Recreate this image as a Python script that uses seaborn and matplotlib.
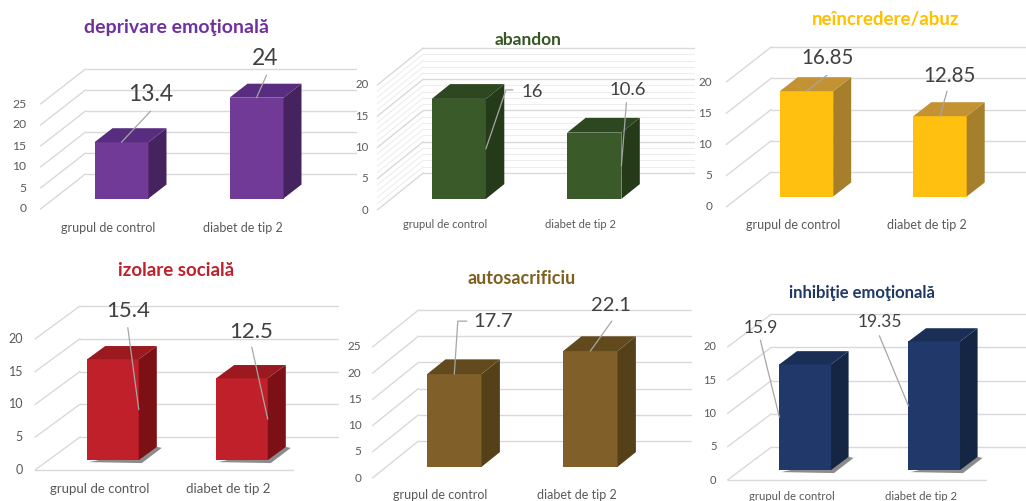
import matplotlib
matplotlib.use("Agg")
import matplotlib.pyplot as plt
import seaborn as sns
import pandas as pd
from matplotlib.patches import Polygon

# ---------------- data ----------------
categories = ["grupul de control", "diabet de tip 2"]
titles = ["deprivare emoţională", "abandon", "neîncredere/abuz",
          "izolare socială", "autosacrificiu", "inhibiţie emoţională"]
deprivare = [13.4, 24]
abandon = [16, 10.6]
neincredere = [16.85, 12.85]
izolare = [15.4, 12.5]
autosacrificiu = [17.7, 22.1]
inhibitie = [15.9, 19.35]
series = [deprivare, abandon, neincredere, izolare, autosacrificiu, inhibitie]
tick_max = [25, 20, 20, 20, 25, 20]
tick_step = 5

# ---------------- style / layout ----------------
W, H = 1026, 501
sns.set_theme(style="white")
plt.rcParams['font.family'] = ['Lato', 'DejaVu Sans']

boxes = [(0, 0, 342, 250), (342, 0, 684, 250), (684, 0, 1026, 250),
         (0, 250, 342, 501), (342, 250, 684, 501), (684, 250, 1026, 501)]
# cx: front-plane centre of first category (px), sx px per category,
# y0: front-wall zero (px), sy px per unit, DX/DY full depth offset (px)
geo = [dict(cx=108, sx=135, y0=209, sy=4.2, DX=45, DY=35),
       dict(cx=445, sx=135.5, y0=210, sy=6.25, DX=46, DY=37),
       dict(cx=793, sx=133.5, y0=207, sy=6.25, DX=45, DY=35),
       dict(cx=99.5, sx=129, y0=470, sy=6.55, DX=45, DY=33),
       dict(cx=440.5, sx=136, y0=478, sy=5.24, DX=46, DY=37),
       dict(cx=792, sx=129, y0=480, sy=6.65, DX=44, DY=33)]
front_c = ["#703A96", "#3A5A2A", "#FFC010", "#C0202A", "#806028", "#21386A"]
top_c = ["#582C7E", "#2D4720", "#C29233", "#9A1A1F", "#634A1D", "#1A2E56"]
side_c = ["#45235F", "#243A18", "#A57F2C", "#7C1014", "#544119", "#152644"]
title_c = ["#7030A0", "#375623", "#FFC000", "#C0202A", "#7F5F1F", "#1F3864"]
title_xy = [(177, 28), (528, 40), (886, 20), (176, 270), (522, 278), (862, 293)]
title_fs = [14, 12.5, 13.5, 13.5, 13, 12]
tick_fs = [8.7, 8.2, 8.5, 9, 8.5, 8]
tick_gap = [14, 9, 14, 12, 11, 11]
cat_fs = [9, 8, 9, 9.5, 9, 8.2]
cat_dy = [19, 15, 18, 19, 17, 16]
lab_fs = [16.5, 13.3, 14.8, 16, 14.5, 12.5]
minor = [False, True, False, False, False, False]
floor_line = [False, False, False, True, False, True]
shadow = [False, False, False, True, False, True]
# data-label placement: anchor on bar, leader path and label centre, px offsets
labspec = [
    [("top", [(0, 0), (29, -31)], (29, -47.5)), ("top", [(0, 0), (10, -22.5)], (9, -39.5))],
    [("right", [(0, 0), (20, -59), (27, -59)], (46.5, -57)), ("right", [(0, 0), (5, -63)], (6, -76))],
    [("top", [(0, 0), (20.5, -16)], (21.5, -33.5)), ("top", [(0, 0), (7, -25)], (10, -40.3))],
    [("right", [(0, 0), (-11, -82)], (-10.5, -98.3)), ("right", [(0, 0), (-16, -72)], (-17, -87.3))],
    [("top", [(0, 0), (3.5, -53), (12.5, -53)], (38.5, -52.2)), ("top", [(0, 0), (21.5, -30)], (21, -46))],
    [("left", [(0, 0), (-19, -77)], (-19, -89.3)), ("left", [(0, 0), (-29, -70)], (-29, -84))],
]
F0, FB, BW = 0.3, 0.4, 0.4   # bar front depth, bar depth, bar width
grid_c, minor_c, tick_c, lab_c, lead_c = "#D9D9D9", "#EDEDED", "#595959", "#404040", "#A6A6A6"

fig = plt.figure(figsize=(W / 100, H / 100), dpi=100)
fig.patch.set_facecolor("white")

for k in range(6):
    L, T, R, B = boxes[k]
    g = geo[k]
    sx, sy, DX, DY = g["sx"], g["sy"], g["DX"], g["DY"]
    bar0c = g["cx"] + F0 * DX
    ybar0 = g["y0"] - F0 * DY
    ax = fig.add_axes([L / W, 1 - B / H, (R - L) / W, (B - T) / H])

    def P(xw, z, v):
        return (xw + (z - F0) * DX / sx, v + (z - F0) * DY / sy)

    def off(pt, dpx, dpy):
        return (pt[0] + dpx / sx, pt[1] - dpy / sy)

    vals = series[k]
    ticks = list(range(0, tick_max[k] + 1, tick_step))
    # minor gridlines
    if minor[k]:
        for v in range(0, tick_max[k] + 1):
            if v % tick_step == 0:
                continue
            for a, b in [(P(-0.5, 1, v), P(1.5, 1, v)), (P(-0.5, 0, v), P(-0.5, 1, v))]:
                ax.plot([a[0], b[0]], [a[1], b[1]], color=minor_c, lw=0.8, zorder=1, clip_on=False)
    for v in ticks:
        for a, b in [(P(-0.5, 1, v), P(1.5, 1, v)), (P(-0.5, 0, v), P(-0.5, 1, v))]:
            ax.plot([a[0], b[0]], [a[1], b[1]], color=grid_c, lw=1.0, zorder=1.5, clip_on=False)
        tp = off(P(-0.5, 0, v), -tick_gap[k], 0)
        ax.text(tp[0], tp[1], str(v), ha="right", va="center", fontsize=tick_fs[k], color=tick_c)
    if floor_line[k]:
        a, b = P(-0.5, 0, 0), P(1.5, 0, 0)
        ax.plot([a[0], b[0]], [a[1], b[1]], color=grid_c, lw=1.0, zorder=1.5, clip_on=False)

    df = pd.DataFrame({"grup": categories, "scor": vals})
    sns.barplot(data=df, x="grup", y="scor", order=categories, color=front_c[k],
                saturation=1, width=BW, errorbar=None, ax=ax, linewidth=0, zorder=3)

    for i, v in enumerate(vals):
        xl, xr = i - BW / 2, i + BW / 2
        if shadow[k]:
            sh = [off(P(xl, F0, 0), 2, 2), off(P(xr, F0, 0), 3, 3),
                  off(P(xr, F0 + FB, 0), 5, 1), P(xr, F0 + FB, 0)]
            ax.add_patch(Polygon(sh, closed=True, fc="#000000", ec="none", alpha=0.45, zorder=2.5))
        top = [P(xl, F0, v), P(xr, F0, v), P(xr, F0 + FB, v), P(xl, F0 + FB, v)]
        side = [P(xr, F0, 0), P(xr, F0, v), P(xr, F0 + FB, v), P(xr, F0 + FB, 0)]
        ax.add_patch(Polygon(top, closed=True, fc=top_c[k], ec="none", zorder=3.2))
        ax.add_patch(Polygon(side, closed=True, fc=side_c[k], ec="none", zorder=3.1))

        anchor, path, lc = labspec[k][i]
        if anchor == "top":
            ap = (i, v)
        elif anchor == "right":
            ap = (xr, v / 2)
        else:
            ap = (xl, v / 2)
        pts = [off(ap, dx, dy) for dx, dy in path]
        ax.plot([p[0] for p in pts], [p[1] for p in pts], color=lead_c, lw=0.9, zorder=4)
        lp = off(ap, lc[0], lc[1])
        ax.text(lp[0], lp[1], f"{v:g}", ha="center", va="center", fontsize=lab_fs[k],
                color=lab_c, zorder=5)

        cp = off(P(i, 0, 0), 0, cat_dy[k])
        ax.text(cp[0], cp[1], categories[i], ha="center", va="center", fontsize=cat_fs[k], color=tick_c)

    ax.set_xlim((L - bar0c) / sx, (R - bar0c) / sx)
    ax.set_ylim((ybar0 - B) / sy, (ybar0 - T) / sy)
    ax.axis("off")

    tx, ty = title_xy[k]
    fig.text(tx / W, 1 - ty / H, titles[k], ha="center", va="center", fontsize=title_fs[k],
             fontweight="bold", color=title_c[k])

fig.savefig("out.png", dpi=100, facecolor="white")
